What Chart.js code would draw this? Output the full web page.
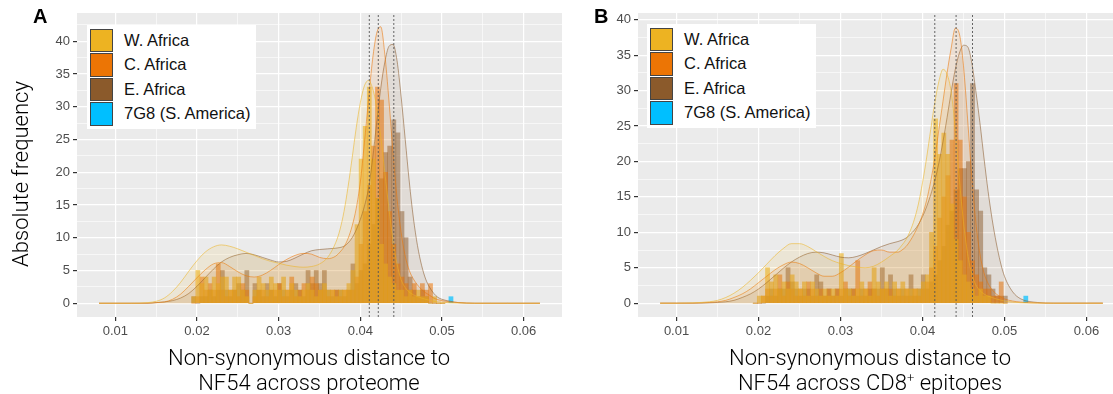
<!DOCTYPE html>
<html>
<head>
<meta charset="utf-8">
<script src="https://cdn.jsdelivr.net/npm/chart.js@4.4.1/dist/chart.umd.min.js"></script>
<style>
  body { margin: 0; width: 1113px; height: 394px; overflow: hidden; background: #fff; position: relative; font-family: "Liberation Sans", Arial, sans-serif; }
  .panel { position: absolute; top: 0; height: 394px; }
  .tag { position: absolute; top: 5px; font-weight: bold; font-size: 20px; color: #000; }
  .xtitle { position: absolute; top: 345px; width: 420px; text-align: center; font-family: Roboto, "Liberation Sans", sans-serif; font-weight: 300; font-size: 22px; line-height: 25px; color: #000; }
  .ytitle { position: absolute; left: -129px; top: 162px; width: 300px; text-align: center; font-family: Roboto, "Liberation Sans", sans-serif; font-weight: 300; font-size: 22px; line-height: 24px; transform: rotate(-90deg); color: #000; }
  .legend { position: absolute; background: #fff; padding: 3px 5px 3px 3px; }
  .legend .row { display: flex; align-items: center; height: 24.5px; }
  .legend .sw { width: 23px; height: 23.5px; border: 0.5px solid #444; box-sizing: border-box; }
  .legend .lab { margin-left: 11px; font-size: 16.5px; color: #111; white-space: nowrap; }
</style>
</head>
<body>
<div class="panel" style="left:0;width:566px"><canvas id="chartA"></canvas></div>
<div class="panel" style="left:566px;width:570px"><canvas id="chartB"></canvas></div>
<div class="tag" style="left:33px">A</div>
<div class="tag" style="left:594px">B</div>
<div class="ytitle">Absolute frequency</div>
<div class="xtitle" style="left:99px">Non-synonymous distance to<br>NF54 across proteome</div>
<div class="xtitle" style="left:660px">Non-synonymous distance to<br>NF54 across CD8<sup style="font-size:13px;line-height:0">+</sup> epitopes</div>
<div class="legend" id="legA" style="left:87px;top:25px"></div>
<div class="legend" id="legB" style="left:647px;top:24px"></div>
<script>
const regions = ["W. Africa", "C. Africa", "E. Africa", "7G8 (S. America)"];
const colors = ["#EDB322", "#EC7505", "#8B5A2B", "#00BFFF"];

// histogram bin centres (bin width 0.0005)
const binX = [0.0196, 0.0201, 0.0206, 0.0211, 0.0216, 0.0221, 0.0226, 0.0231, 0.0236, 0.0241,
  0.0246, 0.0251, 0.0256, 0.0261, 0.0266, 0.0271, 0.0276, 0.0281, 0.0286, 0.0291,
  0.0296, 0.0301, 0.0306, 0.0311, 0.0316, 0.0321, 0.0326, 0.0331, 0.0336, 0.0341,
  0.0346, 0.0351, 0.0356, 0.0361, 0.0366, 0.0371, 0.0376, 0.0381, 0.0386, 0.0391,
  0.0396, 0.0401, 0.0406, 0.0411, 0.0416, 0.0421, 0.0426, 0.0431, 0.0436, 0.0441,
  0.0446, 0.0451, 0.0456, 0.0461, 0.0466, 0.0471, 0.0476, 0.0481, 0.0486, 0.0491,
  0.0496, 0.0501];

// panel A: proteome
const histA_W = [1, 5, 3, 4, 2, 4, 3, 4, 4, 2, 4, 4, 2, 1, 0, 2, 4, 3, 2, 4, 3, 2, 4, 2, 3, 2, 1, 2, 3, 2,
  1, 2, 3, 2, 2, 1, 2, 2, 3, 5, 12, 22, 27, 33, 22, 16, 9, 6, 4, 3, 2, 2, 1, 2, 1, 2, 1, 1, 0, 1, 0, 0];
const histA_C = [0, 1, 4, 2, 3, 2, 6, 2, 1, 2, 2, 1, 3, 2, 0, 1, 2, 2, 1, 2, 2, 3, 1, 2, 4, 1, 2, 3, 2, 4,
  3, 2, 2, 1, 2, 2, 1, 2, 2, 2, 4, 9, 14, 18, 24, 33, 31, 20, 14, 9, 6, 4, 3, 2, 3, 1, 3, 2, 3, 0, 0, 0];
const histA_E = [1, 0, 1, 1, 2, 1, 2, 5, 2, 1, 2, 3, 2, 5, 0, 3, 2, 1, 3, 2, 1, 3, 2, 1, 2, 3, 2, 1, 5, 3,
  5, 3, 5, 2, 1, 2, 2, 1, 2, 6, 3, 5, 6, 9, 12, 16, 19, 23, 24, 28, 26, 14, 10, 4, 2, 1, 2, 1, 0, 0, 0, 0];
const amA_X = [0.0511];
const amA_Y = [1];

// panel B: CD8+ epitopes
const histB_W = [0, 1, 1, 5, 3, 4, 2, 3, 2, 4, 3, 2, 3, 1, 3, 2, 1, 2, 1, 2, 1, 7, 2, 2, 1, 2, 3, 2, 1, 5,
  3, 2, 3, 1, 3, 2, 3, 2, 2, 2, 2, 3, 4, 10, 26, 21, 24, 21, 14, 9, 6, 4, 3, 2, 1, 2, 1, 1, 0, 0, 0, 0];
const histB_C = [0, 0, 1, 2, 1, 2, 4, 1, 3, 2, 1, 2, 1, 3, 2, 1, 2, 1, 2, 1, 2, 2, 3, 1, 2, 6, 1, 2, 3, 2,
  1, 2, 2, 2, 1, 2, 1, 2, 1, 2, 1, 2, 3, 5, 8, 12, 15, 18, 23, 31, 23, 15, 10, 6, 4, 3, 2, 2, 1, 1, 3, 0];
const histB_E = [0, 0, 0, 1, 2, 1, 2, 2, 5, 3, 2, 1, 2, 2, 1, 4, 3, 1, 2, 1, 2, 1, 2, 2, 2, 1, 2, 1, 2, 2,
  2, 5, 2, 4, 2, 1, 2, 1, 4, 1, 2, 4, 2, 3, 4, 6, 8, 11, 13, 16, 19, 19, 20, 31, 16, 13, 5, 4, 2, 1, 1, 1];
const amB_X = [0.0526];
const amB_Y = [1];

// density curves, scaled to counts
const densX = [0.008, 0.010, 0.012, 0.014, 0.015, 0.016, 0.017, 0.018, 0.019, 0.020,
  0.021, 0.022, 0.023, 0.024, 0.025, 0.026, 0.027, 0.028, 0.029, 0.030,
  0.031, 0.032, 0.033, 0.034, 0.035, 0.036, 0.037, 0.0375, 0.038, 0.0385,
  0.039, 0.0395, 0.040, 0.0405, 0.041, 0.0415, 0.042, 0.0425, 0.043, 0.0435,
  0.044, 0.0445, 0.045, 0.0455, 0.046, 0.0465, 0.047, 0.0475, 0.048, 0.0485,
  0.049, 0.0495, 0.050, 0.051, 0.052, 0.054, 0.056, 0.058, 0.060, 0.062];
const densA_W = [0, 0, 0, 0.1, 0.3, 0.8, 1.8, 3.2, 4.9, 6.5, 7.8, 8.6, 8.9, 8.7, 8.3, 7.8, 7.3, 6.8, 6.4, 6.1,
  5.8, 5.6, 5.5, 5.6, 6.0, 7.0, 9.3, 11.2, 14.0, 17.8, 22.2, 26.8, 30.6, 33.2, 34.0, 32.8, 30.0, 25.5, 20.0, 14.5,
  9.6, 6.0, 3.6, 2.4, 1.7, 1.3, 1.0, 0.8, 0.6, 0.45, 0.3, 0.2, 0.15, 0.08, 0.04, 0, 0, 0, 0, 0];
const densA_C = [0, 0, 0, 0, 0.1, 0.2, 0.6, 1.4, 2.6, 3.9, 5.1, 6.0, 6.2, 5.6, 4.8, 4.2, 4.0, 4.3, 5.0, 5.9,
  6.7, 7.3, 7.6, 7.5, 7.0, 6.8, 7.2, 7.8, 8.6, 9.9, 11.8, 14.5, 18.5, 24.5, 31.0, 37.2, 41.2, 42.2, 38.0, 31.0,
  23.0, 16.0, 10.8, 7.2, 5.0, 3.7, 2.8, 2.1, 1.6, 1.2, 0.8, 0.55, 0.4, 0.2, 0.1, 0, 0, 0, 0, 0];
const densA_E = [0, 0, 0, 0, 0.1, 0.2, 0.4, 0.8, 1.5, 2.6, 3.9, 5.2, 6.3, 7.0, 7.4, 7.6, 7.4, 7.0, 6.6, 6.3,
  6.4, 6.9, 7.5, 8.0, 8.2, 8.3, 8.4, 8.5, 8.7, 9.2, 10.0, 11.2, 12.8, 14.8, 17.5, 22.0, 27.5, 32.8, 36.8, 39.2,
  39.5, 37.0, 31.5, 25.0, 18.5, 13.0, 8.8, 5.8, 3.7, 2.4, 1.5, 0.9, 0.6, 0.3, 0.1, 0, 0, 0, 0, 0];
const densB_W = [0, 0, 0.05, 0.2, 0.4, 0.8, 1.4, 2.2, 3.2, 4.3, 5.5, 6.7, 7.7, 8.4, 8.4, 8.0, 7.3, 6.6, 6.0, 5.6,
  5.3, 5.1, 5.0, 5.2, 5.8, 6.6, 7.5, 8.2, 9.0, 10.2, 11.8, 14.0, 17.0, 20.5, 24.5, 28.3, 31.3, 33.0, 32.3, 29.8,
  24.5, 17.5, 11.5, 7.0, 4.2, 2.6, 1.8, 1.3, 1.0, 0.8, 0.6, 0.45, 0.3, 0.15, 0.07, 0.02, 0, 0, 0, 0];
const densB_C = [0, 0, 0, 0.1, 0.2, 0.4, 0.8, 1.3, 2.0, 2.9, 3.8, 4.7, 5.4, 5.8, 5.6, 5.0, 4.3, 3.8, 3.8, 4.3,
  5.1, 6.0, 6.8, 7.4, 7.5, 7.2, 7.2, 7.5, 8.0, 8.8, 9.8, 11.0, 12.5, 14.5, 17.2, 20.5, 24.5, 28.5, 32.5, 36.0,
  38.8, 38.0, 33.5, 26.0, 18.0, 11.5, 7.0, 4.3, 2.8, 1.9, 1.3, 0.9, 0.6, 0.3, 0.15, 0.03, 0, 0, 0, 0];
const densB_E = [0, 0, 0, 0.05, 0.1, 0.2, 0.4, 0.8, 1.3, 2.0, 2.9, 3.9, 4.9, 5.8, 6.5, 7.0, 7.2, 7.1, 6.8, 6.5,
  6.4, 6.6, 7.0, 7.5, 8.0, 8.4, 8.7, 8.9, 9.2, 9.7, 10.3, 11.1, 12.2, 13.6, 15.3, 17.3, 19.8, 22.8, 26.2, 29.8,
  33.0, 35.3, 36.4, 36.2, 34.0, 30.0, 25.5, 20.5, 15.8, 11.8, 8.5, 5.8, 3.8, 1.6, 0.6, 0.1, 0, 0, 0, 0];

// medians (dotted lines)
const medA = [0.0411, 0.0422, 0.0441];
const medB = [0.0415, 0.0441, 0.0461];

const xRange = [0.0053, 0.0647];
const yRangeA = [-2.1, 44.3];
const yRangeB = [-1.95, 40.95];

function rgba(hex, a) {
  const n = parseInt(hex.slice(1), 16);
  return `rgba(${n >> 16},${(n >> 8) & 255},${n & 255},${a})`;
}
function pts(xs, ys) {
  return xs.map((x, i) => ({ x: x, y: ys[i] }));
}

const panelBg = {
  id: "panelBg",
  beforeDraw(chart) {
    const a = chart.chartArea, ctx = chart.ctx;
    ctx.save();
    ctx.fillStyle = "#EBEBEB";
    ctx.fillRect(a.left, a.top, a.right - a.left, a.bottom - a.top);
    ctx.restore();
  }
};

function isMultiple(v, step) {
  return Math.abs(v / step - Math.round(v / step)) < 1e-6;
}

// bar opacity per region: the brown series is lighter so the golden tones dominate like the original
const barAlpha = [0.62, 0.55, 0.5];

function makePanel(id, hist, dens, amX, amY, med, yRange, yWidth, padRight) {
  const datasets = [];
  med.forEach(m => datasets.push({
    type: "line", data: [{ x: m, y: yRange[0] }, { x: m, y: yRange[1] }],
    borderColor: "#555555", borderWidth: 0.9, borderDash: [2, 2], pointRadius: 0, fill: false, order: 0
  }));
  dens.forEach((ys, k) => datasets.push({
    type: "line", data: pts(densX, ys), borderColor: rgba(colors[k], 0.7), borderWidth: 0.8,
    backgroundColor: rgba(colors[k], 0.11), fill: "origin", pointRadius: 0,
    cubicInterpolationMode: "monotone", order: 1
  }));
  datasets.push({
    type: "bar", data: pts(amX, amY), backgroundColor: rgba(colors[3], 0.7),
    grouped: false, barPercentage: 1, categoryPercentage: 1, borderWidth: 0, order: 2
  });
  hist.forEach((ys, k) => datasets.push({
    type: "bar", data: pts(binX, ys), backgroundColor: rgba(colors[k], barAlpha[k]),
    grouped: false, barPercentage: 1, categoryPercentage: 1, borderWidth: 0, order: 3 + k
  }));

  const tickFont = { family: "'Liberation Sans', Arial, sans-serif", size: 13 };
  return new Chart(document.getElementById(id), {
    type: "bar",
    data: { datasets: datasets },
    options: {
      responsive: true,
      maintainAspectRatio: false,
      animation: false,
      layout: { padding: { left: 0, top: 13, right: padRight, bottom: 0 } },
      plugins: { legend: { display: false }, tooltip: { enabled: false } },
      scales: {
        x: {
          type: "linear", min: xRange[0], max: xRange[1], offset: false,
          afterFit: s => { s.height = 77; },
          border: { display: false },
          grid: {
            offset: false, color: "#ffffff", tickLength: 4,
            lineWidth: c => isMultiple(c.tick.value, 0.01) ? 1.2 : 0.6,
            tickColor: c => isMultiple(c.tick.value, 0.01) ? "#333333" : "rgba(0,0,0,0)"
          },
          ticks: {
            stepSize: 0.005, includeBounds: false, maxRotation: 0, autoSkip: false,
            color: "#4d4d4d", font: tickFont, padding: 3,
            callback: v => isMultiple(v, 0.01) ? v.toFixed(2) : ""
          }
        },
        y: {
          min: yRange[0], max: yRange[1],
          afterFit: s => { s.width = yWidth; },
          border: { display: false },
          grid: {
            color: "#ffffff", tickLength: 4,
            lineWidth: c => isMultiple(c.tick.value, 5) ? 1.2 : 0.6,
            tickColor: c => isMultiple(c.tick.value, 5) ? "#333333" : "rgba(0,0,0,0)"
          },
          ticks: {
            stepSize: 2.5, includeBounds: false, autoSkip: false,
            color: "#4d4d4d", font: tickFont, padding: 3,
            callback: v => isMultiple(v, 5) ? String(v) : ""
          }
        }
      }
    },
    plugins: [panelBg]
  });
}

function makeLegend(id) {
  const box = document.getElementById(id);
  regions.forEach((r, k) => {
    const row = document.createElement("div");
    row.className = "row";
    row.innerHTML = `<div class="sw" style="background:${colors[k]}"></div><div class="lab">${r}</div>`;
    box.appendChild(row);
  });
}

makePanel("chartA", [histA_W, histA_C, histA_E], [densA_W, densA_C, densA_E], amA_X, amA_Y, medA, yRangeA, 77, 4);
makePanel("chartB", [histB_W, histB_C, histB_E], [densB_W, densB_C, densB_E], amB_X, amB_Y, medB, yRangeB, 72, 11);
makeLegend("legA");
makeLegend("legB");
</script>
</body>
</html>
